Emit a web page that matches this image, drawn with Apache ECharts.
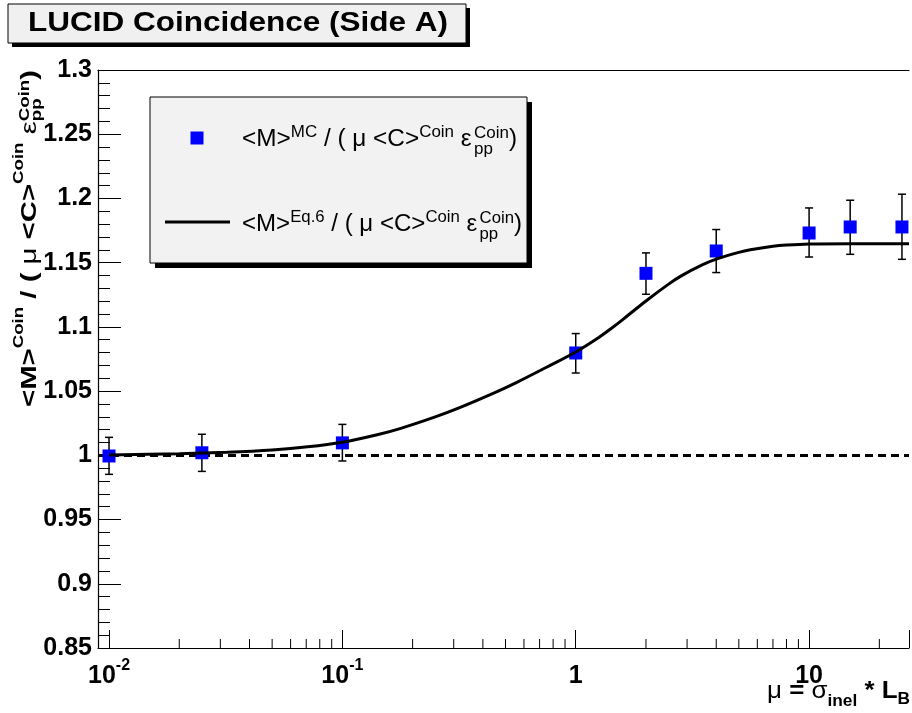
<!DOCTYPE html>
<html>
<head>
<meta charset="utf-8">
<script src="https://cdn.jsdelivr.net/npm/echarts@6/dist/echarts.min.js"></script>
<style>
html,body{margin:0;padding:0;background:#fff;}
#chart{width:912px;height:713px;}
</style>
</head>
<body>
<div id="chart"></div>
<script>
// ---- data ----
const muValues   = [0.01, 0.025, 0.1, 1, 2, 4, 10, 15, 25];
const ratioMC    = [0.9995, 1.002, 1.0097, 1.0797, 1.1417, 1.1591, 1.1731, 1.1778, 1.1778];
const errLow     = [0.9852, 0.9875, 0.9956, 1.0641, 1.1254, 1.1423, 1.1544, 1.1565, 1.1526];
const errHigh    = [1.0140, 1.0164, 1.0241, 1.0948, 1.1576, 1.1758, 1.1926, 1.1986, 1.2033];
const curveMu    = [0.01, 0.02, 0.032, 0.05, 0.071, 0.1, 0.141, 0.178, 0.25, 0.316, 0.45, 0.562, 0.75, 1.0, 1.26, 1.41, 1.6, 2.0, 2.5, 2.82, 3.5, 4.0, 5.0, 5.6, 7.0, 8.0, 10, 15, 26.8];
const curveRatio = [1.0003, 1.0012, 1.0024, 1.0042, 1.0066, 1.0102, 1.0160, 1.0210, 1.0299, 1.0369, 1.0488, 1.0570, 1.0686, 1.0805, 1.0920, 1.0984, 1.1061, 1.1202, 1.1333, 1.1395, 1.1484, 1.1527, 1.1580, 1.1600, 1.1627, 1.1637, 1.1646, 1.1648, 1.1648];
const referenceLevel = 1.0;
const xMin = 0.00897, xMax = 26.8;
const yMin = 0.85, yMax = 1.3, yStep = 0.05;
const xMajorExps = [-2, -1, 0, 1];
const xMajorLabels = ['10^-2', '10^-1', '1', '10'];
const xMinorTicks = [0.02,0.03,0.04,0.05,0.06,0.07,0.08,0.09,0.2,0.3,0.4,0.5,0.6,0.7,0.8,0.9,2,3,4,5,6,7,8,9,20];

const FONT = '"Liberation Sans", Helvetica, Arial, sans-serif';
const ctx = document.createElement('canvas').getContext('2d');
function fontStr(p){ return (p.bold ? 'bold ' : '') + p.size + 'px ' + FONT; }

// lay out a formula made of pieces on a baseline
function mathGroup(pieces, opt){
  let cx = 0, stackStart = null, stackW = 0;
  const children = [];
  pieces.forEach(p => {
    ctx.font = fontStr(p);
    const w = ctx.measureText(p.t).width;
    let x = cx;
    if (stackStart !== null) x = stackStart;
    children.push({
      type: 'text', x: x, y: (p.dy || 0) - 0.35 * p.size, z: 120,
      style: { text: p.t, font: fontStr(p), fill: '#000', align: 'left', textAlign: 'left', verticalAlign: 'middle', textVerticalAlign: 'middle' }
    });
    if (p.stack) { stackStart = cx; stackW = w; }
    else if (stackStart !== null) { cx = stackStart + Math.max(stackW, w); stackStart = null; }
    else cx += w;
  });
  const sx = opt.width ? opt.width / cx : 1;
  return { type: 'group', x: opt.x, y: opt.y, rotation: opt.rotation || 0, scaleX: sx, children: children, z: 120 };
}

const legendPieces = (sup) => [
  {t:'<M>', size:23}, {t:sup, size:16, dy:-10}, {t:' / ( ', size:23}, {t:'μ', size:23},
  {t:' <C>', size:23}, {t:'Coin', size:16, dy:-10}, {t:' ', size:23}, {t:'ε', size:23}, {t:' ', size:8},
  {t:'Coin', size:16, dy:-9, stack:true}, {t:'pp', size:16, dy:7}, {t:')', size:23}
];

const yTitle = mathGroup([
  {t:'<M>', size:22, bold:true}, {t:'Coin', size:14, dy:-14, bold:true}, {t:' / ( ', size:22, bold:true}, {t:'μ', size:22},
  {t:' <C>', size:22, bold:true}, {t:'Coin', size:14, dy:-14, bold:true}, {t:' ', size:22}, {t:'ε', size:22},
  {t:'Coin', size:14, dy:-8, stack:true, bold:true}, {t:'pp', size:14, dy:4, bold:true}, {t:')', size:22, bold:true}
], {x: 38, y: 407, rotation: Math.PI/2, width: 337});

const xTitle = mathGroup([
  {t:'μ', size:24}, {t:' = ', size:24, bold:true}, {t:'σ', size:24}, {t:'inel', size:16, dy:7, bold:true},
  {t:' * ', size:24, bold:true}, {t:'L', size:24, bold:true}, {t:'B', size:16, dy:5, bold:true}
], {x: 767, y: 700, width: 143});

const titleText = mathGroup([{t:'LUCID Coincidence (Side A)', size:28, bold:true}], {x: 28, y: 33, width: 420});

const chart = echarts.init(document.getElementById('chart'), null, {renderer: 'canvas'});

function xLabel(v){
  const lv = Math.log10(v);
  const e = Math.round(lv);
  if (Math.abs(lv - e) > 1e-6) return '';
  const i = xMajorExps.indexOf(e);
  if (i < 0) return '';
  const parts = xMajorLabels[i].split('^');
  return parts.length > 1 ? '{b|' + parts[0] + '}{s|' + parts[1] + '}' : '{b|' + parts[0] + '}';
}

const option = {
  backgroundColor: '#fff',
  animation: false,
  grid: { left: 98, right: 0, top: 70, bottom: 65, show: false },
  xAxis: [{
    type: 'log', logBase: 10, min: xMin, max: xMax,
    axisLine: { show: true, lineStyle: { color: '#000', width: 1.2 } },
    axisTick: { show: true, inside: true, length: 18, lineStyle: { color: '#000', width: 1 } },
    minorTick: { show: false },
    splitLine: { show: false },
    axisLabel: {
      margin: 10, formatter: xLabel,
      rich: {
        b: { fontSize: 25, fontWeight: 'bold', fontFamily: FONT, color: '#000', lineHeight: 36 },
        s: { fontSize: 16, fontWeight: 'bold', fontFamily: FONT, color: '#000', lineHeight: 16, verticalAlign: 'top' }
      }
    }
  }, {
    type: 'log', logBase: 10, min: xMin, max: xMax, position: 'top',
    axisLine: { show: true, onZero: false, lineStyle: { color: '#000', width: 1.2 } },
    axisTick: { show: false }, axisLabel: { show: false }, splitLine: { show: false }
  }],
  yAxis: {
    type: 'value', min: yMin, max: yMax, interval: yStep,
    axisLine: { show: true, lineStyle: { color: '#000', width: 1.2 } },
    axisTick: { show: true, inside: true, length: 23, lineStyle: { color: '#000', width: 1 } },
    minorTick: { show: true, splitNumber: 5, length: 12, lineStyle: { color: '#000', width: 1 } },
    splitLine: { show: false },
    axisLabel: { margin: 6, fontSize: 25, fontWeight: 'bold', fontFamily: FONT, color: '#000' }
  },
  series: [
    {
      type: 'custom', name: 'minorX', silent: true, clip: false, z: 3,
      data: xMinorTicks.map(v => [v]),
      encode: { x: 0 },
      renderItem: (params, api) => {
        const p = api.coord([api.value(0), yMin]);
        return { type: 'line', shape: { x1: p[0], y1: p[1], x2: p[0], y2: p[1] - 9 }, style: { stroke: '#000', lineWidth: 1 } };
      }
    },
    {
      type: 'custom', name: 'errors', silent: true, z: 4,
      data: muValues.map((m, i) => [m, errLow[i], errHigh[i]]),
      encode: { x: 0, y: [1, 2] },
      renderItem: (params, api) => {
        const lo = api.coord([api.value(0), api.value(1)]);
        const hi = api.coord([api.value(0), api.value(2)]);
        const st = { stroke: '#000', lineWidth: 1.5 };
        return { type: 'group', children: [
          { type: 'line', shape: { x1: lo[0], y1: lo[1], x2: hi[0], y2: hi[1] }, style: st },
          { type: 'line', shape: { x1: lo[0] - 4, y1: lo[1], x2: lo[0] + 4, y2: lo[1] }, style: st },
          { type: 'line', shape: { x1: hi[0] - 4, y1: hi[1], x2: hi[0] + 4, y2: hi[1] }, style: st }
        ]};
      }
    },
    {
      type: 'scatter', name: 'MC', z: 5, symbol: 'rect', symbolSize: 13,
      itemStyle: { color: '#0000ff', opacity: 1 },
      data: muValues.map((m, i) => [m, ratioMC[i]])
    },
    {
      type: 'line', name: 'Eq6', z: 6, smooth: 0.3, showSymbol: false, symbol: 'none',
      lineStyle: { color: '#000', width: 3 },
      data: curveMu.map((m, i) => [m, curveRatio[i]]),
      markLine: {
        silent: true, symbol: ['none', 'none'], label: { show: false },
        lineStyle: { color: '#000', width: 2.8, type: [8, 5], opacity: 1 },
        data: [{ yAxis: referenceLevel }]
      }
    }
  ],
  graphic: [
    // title box
    { type: 'rect', shape: { x: 12, y: 8, width: 458, height: 39 }, style: { fill: '#000' }, z: 90 },
    { type: 'rect', shape: { x: 8, y: 4, width: 458, height: 39 }, style: { fill: '#f0f0f0', stroke: '#000', lineWidth: 1 }, z: 91 },
    titleText,
    // legend box
    { type: 'rect', shape: { x: 155, y: 102, width: 377, height: 166 }, style: { fill: '#000' }, z: 90 },
    { type: 'rect', shape: { x: 150, y: 97, width: 377, height: 166 }, style: { fill: '#f2f2f2', stroke: '#000', lineWidth: 1 }, z: 91 },
    { type: 'rect', shape: { x: 190.5, y: 131.5, width: 13, height: 13 }, style: { fill: '#0000ff' }, z: 95 },
    mathGroup(legendPieces('MC'), { x: 242, y: 148, width: 275 }),
    { type: 'line', shape: { x1: 165, y1: 222, x2: 230, y2: 222 }, style: { stroke: '#000', lineWidth: 3 }, z: 95 },
    mathGroup(legendPieces('Eq.6'), { x: 242, y: 233, width: 280 }),
    yTitle,
    xTitle
  ]
};
chart.setOption(option);
</script>
</body>
</html>
